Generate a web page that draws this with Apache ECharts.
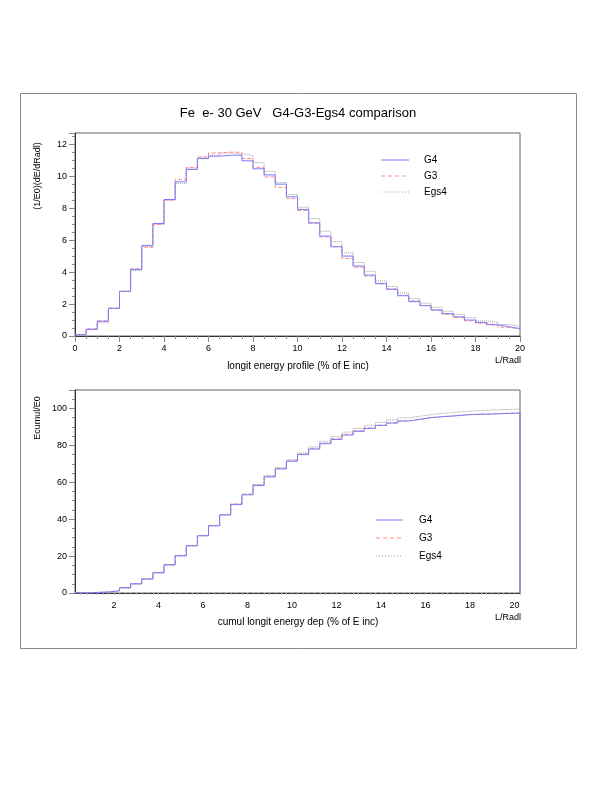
<!DOCTYPE html>
<html><head><meta charset="utf-8">
<script src="https://cdn.jsdelivr.net/npm/echarts@6/dist/echarts.min.js"></script>
<style>html,body{margin:0;padding:0;background:#fff}#c{width:612px;height:792px}</style>
</head><body><div id="c"></div>
<script>
// longitudinal profile, 40 bins of 0.5 Radl from 0 to 20
const g4Prof = [0.08,0.42,0.92,1.73,2.79,4.17,5.67,7.04,8.54,9.65,10.42,11.1,11.25,11.31,11.31,10.96,10.46,10.08,9.5,8.71,7.92,7.08,6.25,5.58,5.0,4.38,3.81,3.29,2.92,2.52,2.15,1.9,1.63,1.4,1.2,1.0,0.85,0.7,0.58,0.46]
const g3Prof = [0.1,0.45,0.95,1.75,2.8,4.2,5.55,6.98,8.5,9.8,10.55,11.2,11.45,11.5,11.5,11.1,10.55,9.95,9.3,8.6,7.85,7.05,6.2,5.6,4.85,4.3,3.75,3.25,2.95,2.55,2.2,1.9,1.6,1.35,1.15,0.95,0.8,0.68,0.55,0.44]
const egsProf = [0.1,0.4,0.82,1.72,2.8,4.1,5.6,7.0,8.5,9.55,10.5,11.15,11.3,11.45,11.4,11.3,10.85,10.3,9.6,8.85,8.05,7.35,6.55,5.9,5.2,4.6,4.05,3.45,3.1,2.7,2.35,2.05,1.8,1.55,1.35,1.15,0.95,0.85,0.72,0.6]
// cumulative deposit, 40 bins of 0.5 Radl from 0.25 to 20.25
const g4Cum = [0.1,0.3,0.5,1.26,2.9,5.0,7.6,11.0,15.3,20.2,25.6,31.0,36.4,42.3,47.9,53.2,58.2,62.9,67.2,71.4,75.0,78.0,80.9,83.2,85.6,87.6,89.2,90.8,92.1,93.2,94.1,95.0,95.5,95.9,96.4,96.8,96.9,97.1,97.3,97.5]
const g3Cum = [0.1,0.3,0.6,1.3,2.9,5.1,7.7,11.1,15.3,20.4,25.7,31.2,36.6,42.5,48.2,53.5,58.5,63.3,67.5,71.7,75.3,78.4,81.2,83.6,86.0,87.9,89.5,91.0,92.2,93.3,94.2,95.0,95.6,96.0,96.5,96.8,97.0,97.2,97.4,97.6]
const egsCum = [0.1,0.2,0.4,1.1,2.6,4.7,7.3,10.8,15.0,20.0,25.5,31.0,36.5,42.4,48.2,53.6,58.8,63.6,68.0,72.2,75.9,79.2,82.2,84.8,87.2,89.2,90.9,92.5,93.8,94.9,95.8,96.6,97.3,97.8,98.3,98.7,99.0,99.3,99.5,99.7]

function steps(vals, lo, w, close) {
  const pts = vals.map((v, i) => [lo + i * w, v])
  pts.push([lo + vals.length * w, vals[vals.length - 1]])
  if (close) pts.push([lo + vals.length * w, 0])
  return pts
}
const F = 'Liberation Sans'
const C4 = '#7b7bff', C3 = '#ff8a8a', CE = '#a0a0a0'
function ser(name, data, color, type, xi) {
  return { name, type: 'line', step: 'end', data, xAxisIndex: xi, yAxisIndex: xi, symbol: 'none',
    lineStyle: { color, width: 1, type }, z: type === 'solid' ? 3 : 2 }
}
const axisBase = { axisLine: { lineStyle: { color: '#333' } }, axisLabel: { color: '#000', fontFamily: F, fontSize: 9 },
  splitLine: { show: false }, axisTick: { lineStyle: { color: '#888' } } }

const chart = echarts.init(document.getElementById('c'))
chart.setOption({
  animation: false,
  grid: [
    { left: 75, top: 133, right: 92, bottom: 456, show: true, borderColor: '#666', borderWidth: 1 },
    { left: 75, top: 390, right: 92, bottom: 199, show: true, borderColor: '#666', borderWidth: 1 }
  ],
  xAxis: [
    Object.assign({}, axisBase, { type: 'value', gridIndex: 0, min: 0, max: 20, interval: 2,
      minorTick: { show: true, splitNumber: 4, length: 3, lineStyle: { color: '#888' } }, axisTick: { length: 6, lineStyle: { color: '#888' } } }),
    Object.assign({}, axisBase, { type: 'value', gridIndex: 1, min: 0.25, max: 20.25, interval: 0.25,
      axisTick: { length: 2, lineStyle: { color: '#bbb' } },
      axisLabel: { color: '#000', fontFamily: F, fontSize: 9, showMinLabel: false,
        formatter: v => (Math.abs(v / 2 - Math.round(v / 2)) < 1e-6 ? String(Math.round(v)) : '') } })
  ],
  yAxis: [
    Object.assign({}, axisBase, { type: 'value', gridIndex: 0, min: 0, max: 12.7, interval: 2, axisLabel: { color: '#000', fontFamily: F, fontSize: 9, showMaxLabel: false },
      minorTick: { show: true, splitNumber: 4, length: 3, lineStyle: { color: '#888' } }, axisTick: { length: 6, lineStyle: { color: '#888' } } }),
    Object.assign({}, axisBase, { type: 'value', gridIndex: 1, min: 0, max: 110, interval: 20, axisLabel: { color: '#000', fontFamily: F, fontSize: 9, showMaxLabel: false },
      minorTick: { show: true, splitNumber: 4, length: 3, lineStyle: { color: '#888' } }, axisTick: { length: 6, lineStyle: { color: '#888' } } })
  ],
  series: [
    ser('Egs4', steps(egsProf, 0, 0.5), CE, 'dotted', 0),
    ser('G3', steps(g3Prof, 0, 0.5), C3, 'dashed', 0),
    ser('G4', steps(g4Prof, 0, 0.5), C4, 'solid', 0),
    ser('Egs4', steps(egsCum, 0.25, 0.5, true), CE, 'dotted', 1),
    ser('G3', steps(g3Cum, 0.25, 0.5, true), C3, 'dashed', 1),
    ser('G4', steps(g4Cum, 0.25, 0.5, true), C4, 'solid', 1)
  ],
  graphic: [
    { type: 'rect', shape: { x: 20.5, y: 93.5, width: 556, height: 555 }, style: { fill: 'none', stroke: '#888', lineWidth: 1 }, z: -1 },
    { type: 'text', x: 298, y: 113, style: { text: 'Fe  e- 30 GeV   G4-G3-Egs4 comparison', font: '13px ' + F, fill: '#000', textAlign: 'center', textVerticalAlign: 'middle' } },
    { type: 'text', x: 298, y: 366, style: { text: 'longit energy profile (% of E inc)', font: '10px ' + F, fill: '#000', textAlign: 'center', textVerticalAlign: 'middle' } },
    { type: 'text', x: 298, y: 622, style: { text: 'cumul longit energy dep (% of E inc)', font: '10px ' + F, fill: '#000', textAlign: 'center', textVerticalAlign: 'middle' } },
    { type: 'text', x: 521, y: 356, style: { text: 'L/Radl', font: '9px ' + F, fill: '#000', textAlign: 'right', textVerticalAlign: 'top' } },
    { type: 'text', x: 521, y: 613, style: { text: 'L/Radl', font: '9px ' + F, fill: '#000', textAlign: 'right', textVerticalAlign: 'top' } },
    { type: 'text', x: 38, y: 176, rotation: Math.PI / 2, style: { text: '(1/E0)(dE/dRadl)', font: '9px ' + F, fill: '#000', textAlign: 'center', textVerticalAlign: 'middle' } },
    { type: 'text', x: 38, y: 418, rotation: Math.PI / 2, style: { text: 'Ecumul/E0', font: '9px ' + F, fill: '#000', textAlign: 'center', textVerticalAlign: 'middle' } },
    // legends
    { type: 'line', shape: { x1: 381, y1: 160, x2: 409, y2: 160 }, style: { stroke: C4, lineWidth: 1 } },
    { type: 'line', shape: { x1: 381, y1: 176, x2: 409, y2: 176 }, style: { stroke: C3, lineWidth: 1, lineDash: [4, 3] } },
    { type: 'line', shape: { x1: 381, y1: 192, x2: 409, y2: 192 }, style: { stroke: CE, lineWidth: 1, lineDash: [1, 2] } },
    { type: 'text', x: 424, y: 160, style: { text: 'G4', font: '10px ' + F, fill: '#000', textVerticalAlign: 'middle' } },
    { type: 'text', x: 424, y: 176, style: { text: 'G3', font: '10px ' + F, fill: '#000', textVerticalAlign: 'middle' } },
    { type: 'text', x: 424, y: 192, style: { text: 'Egs4', font: '10px ' + F, fill: '#000', textVerticalAlign: 'middle' } },
    { type: 'line', shape: { x1: 376, y1: 520, x2: 403, y2: 520 }, style: { stroke: C4, lineWidth: 1 } },
    { type: 'line', shape: { x1: 376, y1: 538, x2: 403, y2: 538 }, style: { stroke: C3, lineWidth: 1, lineDash: [4, 3] } },
    { type: 'line', shape: { x1: 376, y1: 556, x2: 403, y2: 556 }, style: { stroke: CE, lineWidth: 1, lineDash: [1, 2] } },
    { type: 'text', x: 419, y: 520, style: { text: 'G4', font: '10px ' + F, fill: '#000', textVerticalAlign: 'middle' } },
    { type: 'text', x: 419, y: 538, style: { text: 'G3', font: '10px ' + F, fill: '#000', textVerticalAlign: 'middle' } },
    { type: 'text', x: 419, y: 556, style: { text: 'Egs4', font: '10px ' + F, fill: '#000', textVerticalAlign: 'middle' } }
  ]
})
</script>
</body></html>
